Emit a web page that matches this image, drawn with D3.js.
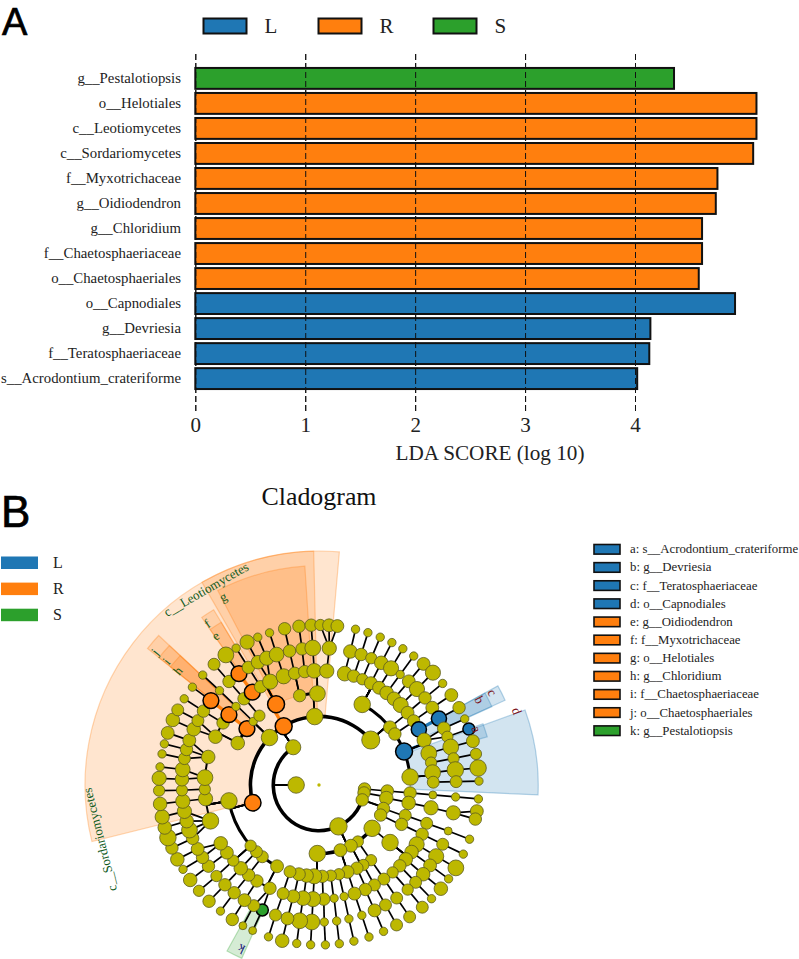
<!DOCTYPE html>
<html>
<head>
<meta charset="utf-8">
<script src="https://cdn.jsdelivr.net/npm/d3@7"></script>
<style>
  html, body { margin: 0; padding: 0; background: #fff; }
  svg { display: block; font-family: "Liberation Serif", serif; }
</style>
</head>
<body>
<svg id="fig" width="799" height="959"></svg>
<script>
// LDA bars, top to bottom
const taxa = ["g__Pestalotiopsis", "o__Helotiales", "c__Leotiomycetes", "c__Sordariomycetes", "f__Myxotrichaceae",
    "g__Oidiodendron", "g__Chloridium", "f__Chaetosphaeriaceae", "o__Chaetosphaeriales", "o__Capnodiales",
    "g__Devriesia", "f__Teratosphaeriaceae", "s__Acrodontium_crateriforme"]
const ldaScore = [4.355, 5.105, 5.105, 5.075, 4.75, 4.735, 4.61, 4.61, 4.58, 4.91, 4.14, 4.13, 4.02]
const taxaClass = ["S", "R", "R", "R", "R", "R", "R", "R", "R", "L", "L", "L", "L"]
const ldaTicks = [0, 1, 2, 3, 4]

const classNames = ["L", "R", "S"]
const classColors = ["#1f77b4", "#ff7f0e", "#2ca02c"]
const labelColors = ["#7a1018", "#0f5a1c", "#15157a"]

// cladogram legend, a..k
const keyLetters = ["a", "b", "c", "d", "e", "f", "g", "h", "i", "j", "k"]
const keyNames = ["s__Acrodontium_crateriforme", "g__Devriesia", "f__Teratosphaeriaceae", "o__Capnodiales",
    "g__Oidiodendron", "f__Myxotrichaceae", "o__Helotiales", "g__Chloridium", "f__Chaetosphaeriaceae",
    "o__Chaetosphaeriales", "g__Pestalotiopsis"]
const keyClass = ["L", "L", "L", "L", "R", "R", "R", "R", "R", "R", "S"]

// biomarkers on the tree: label, ring, angle of the node, then the wedge span in degrees
const markerLabel = ["a", "b", "c", "d", "e", "f", "g", "h", "i", "j", "k", "c__Sordariomycetes", "c__Leotiomycetes"]
const markerClass = ["L", "L", "L", "L", "R", "R", "R", "R", "R", "R", "S", "R", "R"]
const markerRing = [7, 6, 5, 4, 6, 5, 4, 6, 5, 4, 6, 3, 3]
const markerAngle = [69.5, 61, 60.9, 68.5, 324.3, 324.3, 332, 308, 308, 308, 204.4, 255, 329]
const wedgeFrom = [69.5, 61, 61, 70, 325, 325, 332.5, 308.5, 308.5, 308.5, 204, 256, 330]
const wedgeTo = [74, 65.6, 65.5, 92.6, 329, 329, 356.3, 313, 313, 313, 209, 358.7, 365]

// tree: [angle in degrees clockwise from north, abundance, ...children]
const phylumA = [95, 5.5, [95, 5.5, [95, 5.5, [95, 3.5, [95, 3.7, [95, 3.7]]]]]]
const phylumB = [100, 5.5, [101, 6, [101.3, 6, [101.5, 6.3, [101.7, 6.3, [99.4, 5.7], [102.3, 5.5]]]]]]
const phylumC = [109, 5.5,
    [110, 5.5, [109.4, 5.3, [109.6, 5.3, [109.6, 3.5, [109.8, 3.7]]]]],
    [116, 5.5, [115.5, 5.5, [115.5, 5.5, [115.6, 5.3, [115.6, 3.7]]]]]]
const phylumD = [154.8, 7.7,
    [129.2, 7.3, [129, 7.3,
        [121.3, 6.7, [121.3, 6.7, [121.2, 7]]],
        [125.9, 6, [125.9, 5.7, [125.9, 3.7]]],
        [130.6, 6, [130.6, 6, [130.4, 6]]],
        [135, 5.5, [135.2, 5.3, [135.3, 3.7]]],
        [139.9, 5, [139.7, 5, [139.8, 5.3]]]]],
    [145.5, 5, [145.3, 5, [145.4, 5.3, [145.5, 5.3, [145.5, 5.3]]]]],
    [152.3, 5.7,
        [151, 5, [151, 5.3, [151, 5.3, [151, 5.3]]]],
        [155.5, 5.5, [156.1, 5.5, [156.1, 5.7, [156.2, 3.7]]]]],
    [161.8, 5.7,
        [161.8, 5.7, [161.9, 5.7, [161.8, 3.7, [161.8, 3.7]]]],
        [167.4, 5, [167.3, 3.7, [167.4, 3.7, [167.4, 3.7]]]],
        [172.6, 5, [172.4, 3.7, [172.6, 3.7, [172.7, 3.7]]]]],
    [181.4, 7.3,
        [177.9, 5.5, [177.6, 5.5, [177.8, 3.7, [177.7, 3.7]]]],
        [183, 6.7, [183, 6.7, [183, 7, [183, 3.7]]]],
        [187.8, 6, [188, 6.5, [188.1, 7, [188, 3.7]]]],
        [192.7, 5.7, [193, 5.7, [193.3, 5.7, [193.3, 6]]]],
        [198.5, 5.3, [198.3, 5.3, [198.5, 5.3, [198.4, 3.7]]]]]]

const sordariomycetes = [255, 7.3,
    [207.3, 5.7,
        [205.4, 5.5, [204.4, 5.3, [204.5, 3.5]], [208.4, 5.3, [208.4, 3.5]]],
        [212.9, 5.5, [212.9, 5.7, [212.8, 5.5]]]],
    [218.3, 5.3, [218, 5.5, [218.2, 5.5, [218, 3.7]]]],
    [223.2, 5.3, [223.2, 6, [223.3, 5.5, [223.4, 5.5]]]],
    [228.4, 5,
        [228.6, 5, [228.4, 5, [228.6, 5]]],
        [233.7, 5.7, [233.7, 5.5, [233.6, 6]]],
        [239.3, 6, [238.1, 5.5, [238.2, 3.7]], [242.2, 5.7, [242.3, 6]]]],
    [260, 7.3,
        [251.7, 7.3,
            [247.1, 5.5, [246.8, 5.5]],
            [250.8, 7, [250.8, 7.3]],
            [254.7, 6, [254.6, 6]],
            [258.9, 6.3, [258.5, 6.3]]],
        [263.1, 6.3, [263.2, 6.3, [263.2, 6]]],
        [267.9, 5, [267.8, 5, [268, 5]]],
        [273.7, 7, [272.4, 6, [272.4, 6.3]], [276.5, 6.5, [276.5, 3.7]]],
        [284.2, 6,
            [281.1, 5.3, [281.2, 3.7]],
            [285, 5.5, [284.9, 3.7]],
            [289, 5.7, [289, 5.7]]]]]
const classNext = [313.8, 7.3,
    [297.3, 6,
        [295, 6, [294, 6, [294, 6]], [298, 5.3, [298, 5.3]]],
        [302.9, 5.5, [302.6, 5.5, [302.6, 3.7]]]],
    [308, 7, [308, 7, [308, 7, [307.7, 3.7]]]],
    [314, 3.7, [313.4, 3.7, [313.5, 3.7, [313.4, 3.7]]]],
    [319.3, 5, [319, 5.5, [319, 5.5, [319, 5.3]]]]]
const leotiomycetes = [329, 7.5,
    [332, 7.5,
        [324.3, 7, [324.3, 7, [324.4, 7]]],
        [329.3, 5.5, [329, 5.5, [328.8, 3.7]]],
        [334.7, 6.7, [333.6, 6, [333.3, 6.3]], [337.6, 6.3, [337.5, 3.7]]],
        [342, 6.7, [342, 6.5, [342, 3.7]]]]]
const classLast = [356.4, 7.3,
    [347.8, 5.5,
        [347.7, 5.5, [347.6, 5.5, [347.6, 5.5]]],
        [352.8, 5.5, [352.9, 5.5, [352.8, 5.5]]]],
    [359, 7,
        [357.6, 6.5, [357.4, 7, [357.2, 5.5]]],
        [3.9, 6.3, [4.3, 6.3, [0.5, 5], [3.6, 5.7], [6.6, 5.7]]]]]
const classRight = [49, 8,
    [28.2, 7.3,
        [13, 6.5, [13.2, 6, [13.2, 3.7]]],
        [17.7, 5.5, [17.9, 5.5, [17.8, 3.7]]],
        [22.3, 5, [22.4, 5, [22.5, 3.7]]],
        [27, 5.7, [27, 6, [27.1, 3.7]]],
        [31.7, 5.7, [31.7, 6.7, [31.6, 3.7]]],
        [36.3, 6, [36.3, 3.7, [36.3, 3.7]]],
        [41, 6, [40.9, 5.7, [40.8, 5.7]]],
        [45.6, 6.7, [45.6, 6.7, [45.4, 6.7]]]],
    [50.9, 5.7, [50.8, 5.7, [50.6, 5.5, [50.6, 3.7]]]],
    [56.1, 5.5, [55.9, 5.5, [55.7, 5.7, [55.8, 5.7]]]],
    [68.5, 7.5,
        [60.9, 6.7, [61, 6.7, [61.1, 5.5]]],
        [66.9, 6.3, [65.6, 5.7, [65.6, 3.7]], [69.4, 5, [69.5, 5.3]]],
        [73.9, 7, [73.9, 7, [74.1, 5.7]]],
        [78.7, 5, [78.8, 5, [78.8, 5]]]],
    [85, 7.3,
        [83.8, 7, [83.7, 7.3, [83.9, 7.3]]],
        [88.6, 5.3, [88.6, 5.3, [88.6, 3.7]]]]]
const phylumE = [325.7, 6.7, sordariomycetes, classNext, leotiomycetes, classLast, classRight]
const treeRoot = [270, 1.5, [270, 7.3, phylumA, phylumB, phylumC, phylumD, phylumE]]

const svg = d3.select("#fig")

// ---- A: LDA bars ----
const barX = d3.scaleLinear().domain([0, 4]).range([195.3, 635])
const barY = d3.scaleBand().domain(taxa).range([66.7, 390.3]).paddingInner(0.165).paddingOuter(0.05)
const colorOf = d3.scaleOrdinal().domain(classNames).range(classColors)

svg.append("text").attr("x", 2).attr("y", 35).attr("font-family", "Liberation Sans")
    .attr("font-size", 38).attr("stroke", "#000").attr("stroke-width", 0.7).text("A")

const keyTop = svg.append("g")
classNames.forEach((c, i) => {
    const step = d3.scaleLinear().domain([0, 1]).range([203.5, 318.5])
    keyTop.append("rect").attr("x", step(i)).attr("y", 18.5).attr("width", 43).attr("height", 15)
        .attr("fill", colorOf(c)).attr("stroke", "#111").attr("stroke-width", 2)
    keyTop.append("text").attr("x", step(i) + 61).attr("y", 33).attr("font-size", 21)
        .attr("fill", "#222").text(c)
})

// dashed grid comes from the axis ticks
svg.append("g").attr("transform", "translate(0,411)")
    .call(d3.axisBottom(barX).tickValues(ldaTicks).tickFormat(d3.format("d")).tickSizeInner(-358).tickSizeOuter(0).tickPadding(6))
    .call(g => g.select(".domain").remove())
    .call(g => g.selectAll("line").attr("stroke", "#111").attr("stroke-width", 1).attr("stroke-dasharray", "6,3"))
    .call(g => g.selectAll("text").attr("font-family", "Liberation Serif").attr("font-size", 21).attr("fill", "#222"))

svg.append("g").selectAll("rect").data(taxa).join("rect")
    .attr("x", barX(0))
    .attr("y", d => barY(d))
    .attr("width", (d, i) => barX(ldaScore[i]) - barX(0))
    .attr("height", barY.bandwidth())
    .attr("fill", (d, i) => colorOf(taxaClass[i]))
    .attr("stroke", "#111").attr("stroke-width", 2)

// grid again above the bars, the lines run across them in the original
svg.append("g").attr("transform", "translate(0,411)")
    .call(d3.axisBottom(barX).tickValues(ldaTicks).tickFormat("").tickSizeInner(-358).tickSizeOuter(0))
    .call(g => g.select(".domain").remove())
    .call(g => g.selectAll("line").attr("stroke", "#111").attr("stroke-width", 1).attr("stroke-dasharray", "6,3"))

svg.append("g").attr("transform", "translate(181,0)")
    .call(d3.axisLeft(barY).tickSize(0).tickPadding(0))
    .call(g => g.select(".domain").remove())
    .call(g => g.selectAll("text").attr("font-family", "Liberation Serif").attr("font-size", 14.8).attr("fill", "#222"))

svg.append("text").attr("x", 490).attr("y", 460).attr("text-anchor", "middle").attr("font-size", 21.2)
    .attr("fill", "#222").text("LDA SCORE (log 10)")

// ---- B: cladogram ----
svg.append("text").attr("x", 1).attr("y", 527).attr("font-family", "Liberation Sans")
    .attr("font-size", 44).attr("stroke", "#000").attr("stroke-width", 0.7).text("B")
svg.append("text").attr("x", 319).attr("y", 505).attr("text-anchor", "middle").attr("font-size", 25.9)
    .attr("fill", "#111").text("Cladogram")

classNames.forEach((c, i) => {
    const rowY = d3.scaleLinear().domain([0, 1]).range([562.5, 588.6])
    svg.append("rect").attr("x", 1).attr("y", rowY(i) - 6).attr("width", 37).attr("height", 12.5).attr("fill", colorOf(c))
    svg.append("text").attr("x", 53).attr("y", rowY(i) + 5.5).attr("font-size", 16).attr("fill", "#222").text(c)
})

const keyRow = d3.scaleLinear().domain([0, 10]).range([549.3, 730.7])
keyLetters.forEach((k, i) => {
    svg.append("rect").attr("x", 594).attr("y", keyRow(i) - 4.8).attr("width", 26).attr("height", 9.6)
        .attr("fill", colorOf(keyClass[i])).attr("stroke", "#111").attr("stroke-width", 1.6)
    svg.append("text").attr("x", 630).attr("y", keyRow(i) + 4).attr("font-size", 12.8).attr("fill", "#222")
        .text(k + ": " + keyNames[i])
})

const clad = svg.append("g").attr("transform", "translate(319,785)")
const ring = d3.scaleLinear().domain([0, 7]).range([0, 160])
const toRad = d3.scaleLinear().domain([0, 360]).range([0, 2 * Math.PI])
const nodeR = d3.scaleLinear().domain([0, 10]).range([0, 11.3])
const wedgeOuter = d3.scaleLinear().domain([3, 7]).range([234, 175])
const arcGen = d3.arc()

// angles just right of north belong after 360 so sibling arcs never wrap
const unwrap = a => a < 92 ? a + 360 : a
const polar = (a, r) => [r * Math.sin(toRad(a)), -r * Math.cos(toRad(a))]

const tree = d3.hierarchy(treeRoot, d => d.slice(2))
tree.each(d => {
    d.deg = unwrap(d.data[0])
    d.r = ring(d.depth)
    d.marker = markerLabel.findIndex((m, i) => markerRing[i] === d.depth && markerAngle[i] === d.data[0])
})

markerLabel.forEach((m, i) => {
    const outer = wedgeOuter(markerRing[i])
    clad.append("path")
        .attr("d", arcGen({
            innerRadius: ring(markerRing[i]), outerRadius: outer,
            startAngle: toRad(wedgeFrom[i]), endAngle: toRad(wedgeTo[i])
        }))
        .attr("fill", colorOf(markerClass[i])).attr("fill-opacity", 0.2)
        .attr("stroke", colorOf(markerClass[i])).attr("stroke-opacity", 0.3).attr("stroke-width", 1.2)
})

// sibling arcs sit on the ring of the children
const arcWidth = d3.scaleOrdinal().domain([2, 3, 4, 5]).range([3.6, 3.6, 3, 2])
tree.descendants().filter(d => d.children && d.depth >= 1 && d.depth < 5).forEach(d => {
    const degs = d.children.map(c => c.deg).concat(d.deg)
    const w = arcWidth(d.depth + 1)
    clad.append("path")
        .attr("d", arcGen({
            innerRadius: ring(d.depth + 1) - w / 2, outerRadius: ring(d.depth + 1) + w / 2,
            startAngle: toRad(d3.min(degs)), endAngle: toRad(d3.max(degs))
        }))
        .attr("fill", "#000")
})

tree.links().filter(l => l.source.depth >= 1).forEach(l => {
    const a = polar(l.source.deg, l.source.r)
    // inner links run straight out to the arc, the outer rings just join the nodes
    const b = l.target.depth < 6 ? polar(l.source.deg, l.target.r) : polar(l.target.deg, l.target.r)
    const both = l.source.marker >= 0 && l.target.marker >= 0
    clad.append("line")
        .attr("x1", a[0]).attr("y1", a[1]).attr("x2", b[0]).attr("y2", b[1])
        .attr("stroke", both ? colorOf(markerClass[l.target.marker]) : "#000")
        .attr("stroke-width", both ? 3.2 : 1.7)
})

clad.append("g").selectAll("circle").data(tree.descendants()).join("circle")
    .attr("cx", d => polar(d.deg, d.r)[0])
    .attr("cy", d => polar(d.deg, d.r)[1])
    .attr("r", d => nodeR(d.data[1]))
    .attr("fill", d => d.marker >= 0 ? colorOf(markerClass[d.marker]) : "#bdb800")
    .attr("stroke", d => d.depth === 0 ? "none" : d.marker >= 0 ? "#000" : "#5a5a20")
    .attr("stroke-width", d => d.marker >= 0 ? 1.5 : 0.8)

markerLabel.forEach((m, i) => {
    const deg = unwrap(markerAngle[i]) + 1
    const p = polar(deg, wedgeOuter(markerRing[i]) - 8)
    clad.append("text")
        .attr("transform", `translate(${p[0]},${p[1]}) rotate(${deg})`)
        .attr("text-anchor", "middle").attr("dominant-baseline", "central")
        .attr("font-size", 13)
        .attr("fill", labelColors[classNames.indexOf(markerClass[i])])
        .text(m)
})
</script>
</body>
</html>
